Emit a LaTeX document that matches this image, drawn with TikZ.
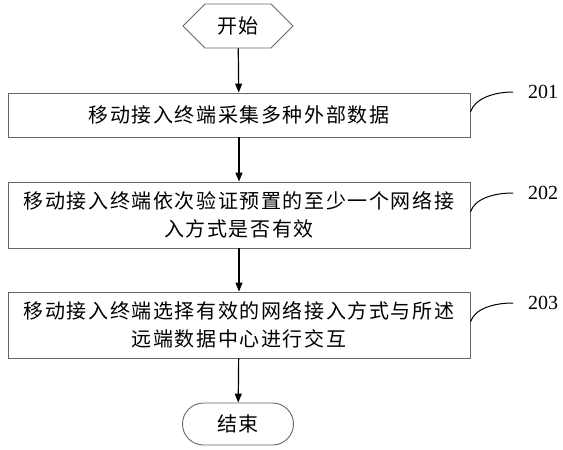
\documentclass[tikz,border=0pt]{standalone}
\usepackage{fontspec}
\newfontfamily\cjk[LetterSpace=8]{Noto Sans CJK SC}
\newfontfamily\numfont{Liberation Serif}
\usetikzlibrary{shapes.symbols,arrows.meta}

\tikzset{
  procbox/.style={draw=black!60, line width=0.9pt, minimum width=462pt, align=center,
    font={\cjk\fontsize{20}{28}\selectfont}},
  termstart/.style={draw=black!60, line width=0.9pt, signal, signal to=west and east,
    minimum width=110pt, minimum height=44pt, font={\cjk\fontsize{20}{24}\selectfont}},
  termend/.style={draw=black!60, line width=0.9pt, rounded corners=21pt,
    minimum width=111pt, minimum height=42pt, font={\cjk\fontsize{20}{24}\selectfont}},
  numlabel/.style={anchor=west, inner sep=0pt, font={\numfont\fontsize{20}{24}\selectfont}},
  flowarrow/.style={-{Triangle[length=9pt,width=7pt]}, line width=1.2pt},
  callout/.style={line width=1pt}
}

\begin{document}
\begin{tikzpicture}[x=1pt, y=-1pt]
  \useasboundingbox (0,0) rectangle (563,450);

  % terminals
  \node[termstart] (start) at (238,26) {开始};
  \node[termend] (stop) at (238,424) {结束};

  % steps
  \node[procbox, minimum height=44pt] (b1) at (239,115) {移动接入终端采集多种外部数据};
  \node[procbox, minimum height=66pt] (b2) at (239,215)
    {移动接入终端依次验证预置的至少一个网络接\\入方式是否有效};
  \node[procbox, minimum height=66pt] (b3) at (239,325)
    {移动接入终端选择有效的网络接入方式与所述\\远端数据中心进行交互};

  % flow
  \draw[flowarrow] (start) -- (b1);
  \draw[flowarrow] (b1) -- (b2);
  \draw[flowarrow] (b2) -- (b3);
  \draw[flowarrow] (b3) -- (stop);

  % step numbers
  \foreach \b/\lab/\y in {b1/201/92, b2/202/193, b3/203/303} {
    \node[numlabel] (l\lab) at (528,\y) {\lab};
    \draw[callout] ([yshift=3pt]\b.east) .. controls +(4,-13) and +(-20,0) .. ([xshift=-15pt]l\lab.west);
  }
\end{tikzpicture}
\end{document}
